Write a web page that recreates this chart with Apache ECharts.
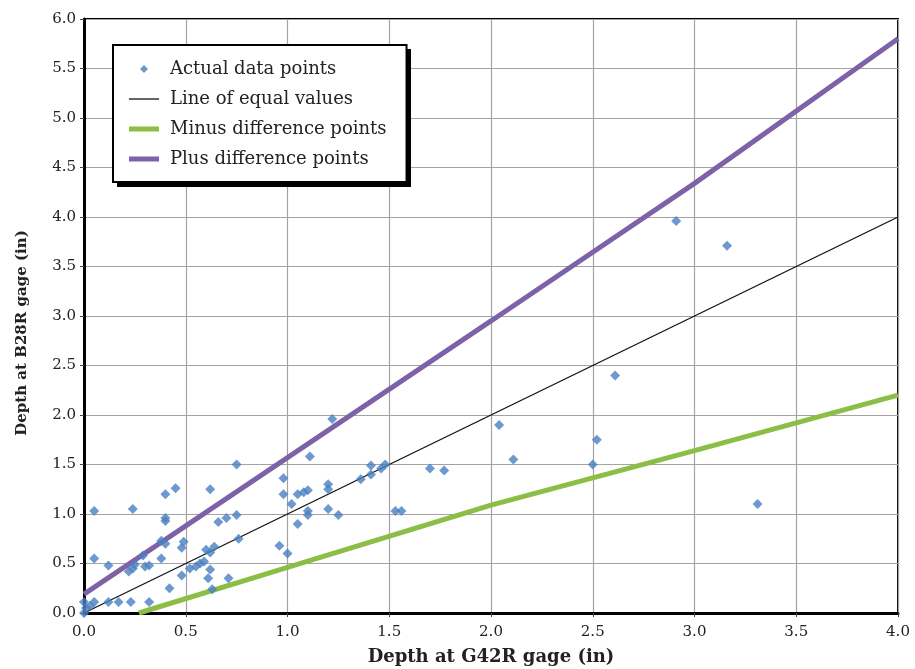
<!DOCTYPE html>
<html>
<head>
<meta charset="utf-8">
<script src="https://cdn.jsdelivr.net/npm/echarts@6/dist/echarts.min.js"></script>
<style>
html,body{margin:0;padding:0;background:#fff;}
#chart{width:915px;height:669px;}
</style>
</head>
<body>
<div id="chart"></div>
<script>
// Actual data points: [G42R depth, B28R depth]
const actualPoints = [
  [0.00,0.00],[0.01,0.05],[0.00,0.11],[0.03,0.07],[0.05,0.11],[0.12,0.11],[0.17,0.11],[0.23,0.11],[0.32,0.11],
  [0.05,0.55],[0.12,0.48],[0.05,1.03],
  [0.22,0.42],[0.24,0.45],[0.25,0.49],[0.29,0.58],[0.30,0.47],[0.32,0.48],[0.24,1.05],
  [0.38,0.55],[0.38,0.73],[0.40,0.70],[0.40,0.93],[0.40,0.96],[0.40,1.20],[0.45,1.26],[0.42,0.25],
  [0.48,0.66],[0.49,0.72],[0.48,0.38],
  [0.52,0.45],[0.55,0.47],[0.57,0.50],[0.59,0.52],
  [0.60,0.64],[0.64,0.67],[0.62,0.61],[0.62,0.44],[0.61,0.35],[0.63,0.24],[0.62,1.25],
  [0.66,0.92],[0.70,0.96],[0.75,0.99],[0.71,0.35],[0.75,1.50],[0.76,0.75],
  [0.96,0.68],[1.00,0.60],[0.98,1.36],[0.98,1.20],[1.02,1.10],[1.05,1.20],[1.08,1.22],[1.10,1.24],
  [1.05,0.90],[1.10,1.03],[1.10,0.99],[1.11,1.58],
  [1.20,1.30],[1.20,1.25],[1.20,1.05],[1.25,0.99],[1.22,1.96],
  [1.36,1.35],[1.41,1.49],[1.41,1.40],[1.46,1.46],[1.48,1.50],
  [1.53,1.03],[1.56,1.03],[1.70,1.46],[1.77,1.44],
  [2.04,1.90],[2.11,1.55],[2.50,1.50],[2.52,1.75],[2.61,2.40],[2.91,3.96],[3.16,3.71],[3.31,1.10]
];
const equalLine = [[0,0],[4,4]];
const minusLine = [[0.27,0],[1.0,0.46],[2.0,1.09],[3.0,1.64],[4.0,2.2]];
const plusLine = [[0,0.19],[1.0,1.57],[2.0,2.95],[3.0,4.34],[4.0,5.8]];
const xTicks = ['0.0','0.5','1.0','1.5','2.0','2.5','3.0','3.5','4.0'];
const yTicks = ['0.0','0.5','1.0','1.5','2.0','2.5','3.0','3.5','4.0','4.5','5.0','5.5','6.0'];
const seriesNames = ['Actual data points','Line of equal values','Minus difference points','Plus difference points'];
const xName = 'Depth at G42R gage (in)';
const yName = 'Depth at B28R gage (in)';

const FONT = 'DejaVu Serif';
const chart = echarts.init(document.getElementById('chart'), null, {renderer:'canvas'});
const axisCommon = {
  type:'value',
  interval:0.5,
  nameLocation:'middle',
  axisLine:{show:true,onZero:false,lineStyle:{color:'#000',width:3}},
  axisTick:{show:true,length:4,lineStyle:{color:'#444',width:1}},
  splitLine:{show:true,lineStyle:{color:'#a3a3a3',width:1.2}},
  axisLabel:{fontFamily:FONT,fontSize:15,color:'#222',margin:8}
};
chart.setOption({
  animation:false,
  backgroundColor:'#fff',
  grid:{left:84,right:17,top:19,bottom:56,show:true,borderColor:'#000',borderWidth:2,
        containLabel:false,outerBoundsMode:'none'},
  xAxis:Object.assign({},axisCommon,{
    min:0,max:4,name:xName,nameGap:35,
    nameTextStyle:{fontFamily:FONT,fontWeight:'bold',fontSize:18,color:'#222'},
    axisLabel:Object.assign({},axisCommon.axisLabel,{margin:12,formatter:(v)=>xTicks[Math.round(v*2)]})
  }),
  yAxis:Object.assign({},axisCommon,{
    min:0,max:6,name:yName,nameGap:54,
    nameTextStyle:{fontFamily:FONT,fontWeight:'bold',fontSize:15,color:'#222',padding:[0,34,0,0]},
    axisLabel:Object.assign({},axisCommon.axisLabel,{formatter:(v)=>yTicks[Math.round(v*2)]})
  }),
  graphic:[
    {type:'rect',left:117,top:49,shape:{width:294,height:138},style:{fill:'#000'},z:3.5,silent:true}
  ],
  legend:{
    orient:'vertical',
    left:113,top:45,
    padding:[15,20,14,16],
    itemGap:12,
    itemWidth:30,itemHeight:8,
    backgroundColor:'#fff',
    borderColor:'#000',borderWidth:2,
    textStyle:{fontFamily:FONT,fontSize:18,color:'#222',padding:[0,0,0,6]},
    data:[
      {name:seriesNames[0],icon:'path://M4,0 L8,4 L4,8 L0,4 Z'},
      {name:seriesNames[1],icon:'path://M0,0 L30,0 L30,1.3 L0,1.3 Z'},
      {name:seriesNames[2],icon:'path://M0,0 L30,0 L30,5 L0,5 Z'},
      {name:seriesNames[3],icon:'path://M0,0 L30,0 L30,5 L0,5 Z'}
    ]
  },
  series:[
    {name:seriesNames[1],type:'line',data:equalLine,showSymbol:false,symbol:'none',
     color:'#111',lineStyle:{color:'#111',width:1.3},z:2},
    {name:seriesNames[2],type:'line',data:minusLine,showSymbol:false,symbol:'none',
     color:'#8cbd45',lineStyle:{color:'#8cbd45',width:5},z:2},
    {name:seriesNames[3],type:'line',data:plusLine,showSymbol:false,symbol:'none',
     color:'#7e62a8',lineStyle:{color:'#7e62a8',width:5},z:2},
    {name:seriesNames[0],type:'scatter',data:actualPoints,symbol:'diamond',symbolSize:10,
     color:'#4a80c2',itemStyle:{color:'#4a80c2'},z:3}
  ]
});
</script>
</body>
</html>
